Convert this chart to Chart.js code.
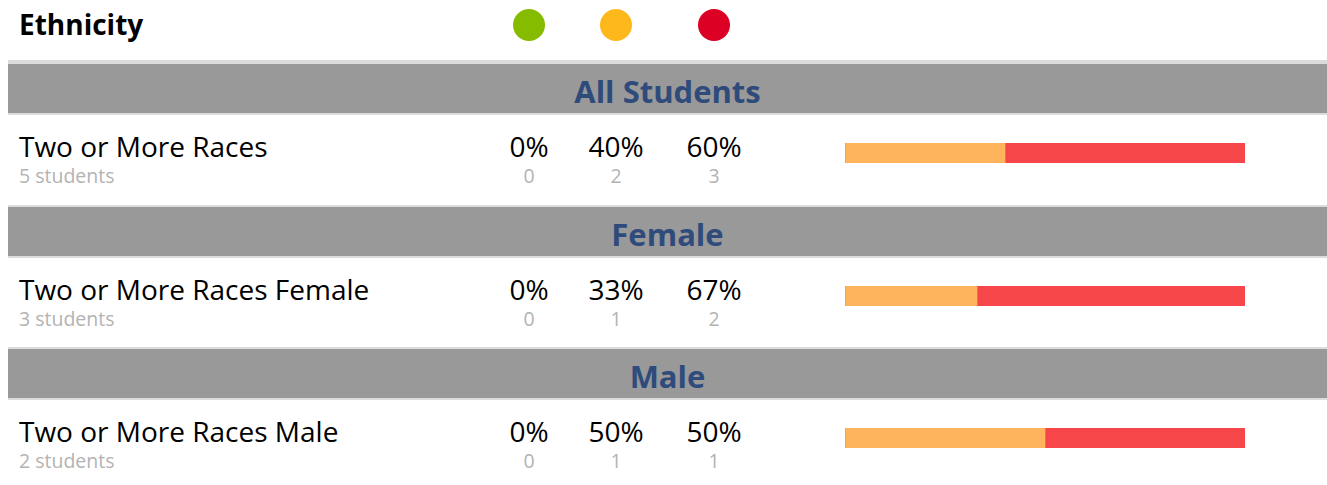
<!DOCTYPE html>
<html>
<head>
    <title>Ethnicity</title>
    <script src="https://cdn.jsdelivr.net/npm/chart.js"></script>
    <style>
        body {
            margin: 0;
            width: 1327px;
            height: 485px;
            background: #fff;
            font-family: 'Open Sans', sans-serif;
            position: relative;
            overflow: hidden;
        }
        .abs { position: absolute; white-space: nowrap; }
        .title { left: 19px; top: 10px; font-size: 28px; line-height: 28px; font-weight: bold; color: #000; }
        .dot { width: 32px; height: 32px; border-radius: 50%; top: 9px; }
        .header {
            left: 8px; right: 0;
            background: #999;
            border-bottom: 2px solid #dcdcdc;
            height: 49px;
        }
        .header span {
            display: block;
            text-align: center;
            font-size: 31px; line-height: 31px;
            font-weight: bold;
            color: #2f4b7c;
            margin-top: 12px;
        }
        .label { left: 19px; font-size: 28px; line-height: 28px; color: #000; }
        .sub { left: 19px; font-size: 19.5px; line-height: 20px; color: #b3b3b3; }
        .num { width: 80px; text-align: center; }
        canvas { position: absolute; }
    </style>
</head>
<body>
    <div class="abs title">Ethnicity</div>
    <div id="page"></div>

    <script>
        // data
        const groups = ['All Students', 'Female', 'Male'];
        const rowLabels = ['Two or More Races', 'Two or More Races Female', 'Two or More Races Male'];
        const totals = [5, 3, 2];
        const greenCounts = [0, 0, 0];
        const orangeCounts = [2, 1, 1];
        const redCounts = [3, 2, 1];
        const greenPct = [0, 0, 0];
        const orangePct = [40, 33, 50];
        const redPct = [60, 67, 50];

        const legendColors = ['#86bc00', '#ffb81c', '#dc0025'];
        const barColors = ['#46BFBD', '#FDB45C', '#F7464A'];
        const colX = [529, 616, 714];
        const headerTops = [64, 207, 349];

        const page = document.getElementById('page');

        // legend dots
        legendColors.forEach((c, i) => {
            const d = document.createElement('div');
            d.className = 'abs dot';
            d.style.left = (colX[i] - 16) + 'px';
            d.style.background = c;
            page.appendChild(d);
        });

        function addText(cls, text, left, top) {
            const el = document.createElement('div');
            el.className = 'abs ' + cls;
            el.textContent = text;
            if (left !== null) el.style.left = left + 'px';
            el.style.top = top + 'px';
            page.appendChild(el);
            return el;
        }

        groups.forEach((g, i) => {
            const top = headerTops[i];

            // section header
            const h = document.createElement('div');
            h.className = 'abs header';
            h.style.top = top + 'px';
            h.style.borderTop = (i === 0 ? 4 : 2) + 'px solid #dcdcdc';
            h.style.marginTop = -(i === 0 ? 4 : 2) + 'px';
            h.innerHTML = '<span>' + g + '</span>';
            page.appendChild(h);

            // row text
            addText('label', rowLabels[i], null, top + 68);
            addText('sub', totals[i] + ' students', null, top + 102);

            const pcts = [greenPct[i], orangePct[i], redPct[i]];
            const counts = [greenCounts[i], orangeCounts[i], redCounts[i]];
            for (let k = 0; k < 3; k++) {
                addText('label num', pcts[k] + '%', colX[k] - 40, top + 68);
                addText('sub num', counts[k], colX[k] - 40, top + 102);
            }

            // stacked bar
            const cv = document.createElement('canvas');
            cv.width = 400;
            cv.height = 20;
            cv.style.left = '845px';
            cv.style.top = (top + 79) + 'px';
            cv.style.width = '400px';
            cv.style.height = '20px';
            page.appendChild(cv);

            new Chart(cv.getContext('2d'), {
                type: 'bar',
                data: {
                    labels: [rowLabels[i]],
                    datasets: [
                        { data: [greenPct[i]], backgroundColor: barColors[0] },
                        { data: [orangePct[i]], backgroundColor: barColors[1] },
                        { data: [redPct[i]], backgroundColor: barColors[2] }
                    ]
                },
                options: {
                    indexAxis: 'y',
                    responsive: false,
                    animation: false,
                    devicePixelRatio: 1,
                    layout: { padding: 0 },
                    datasets: { bar: { barPercentage: 1, categoryPercentage: 1, borderWidth: 0 } },
                    plugins: { legend: { display: false }, tooltip: { enabled: false } },
                    scales: {
                        x: { stacked: true, min: 0, max: 100, display: false },
                        y: { stacked: true, display: false }
                    }
                }
            });
        });
    </script>
</body>
</html>
